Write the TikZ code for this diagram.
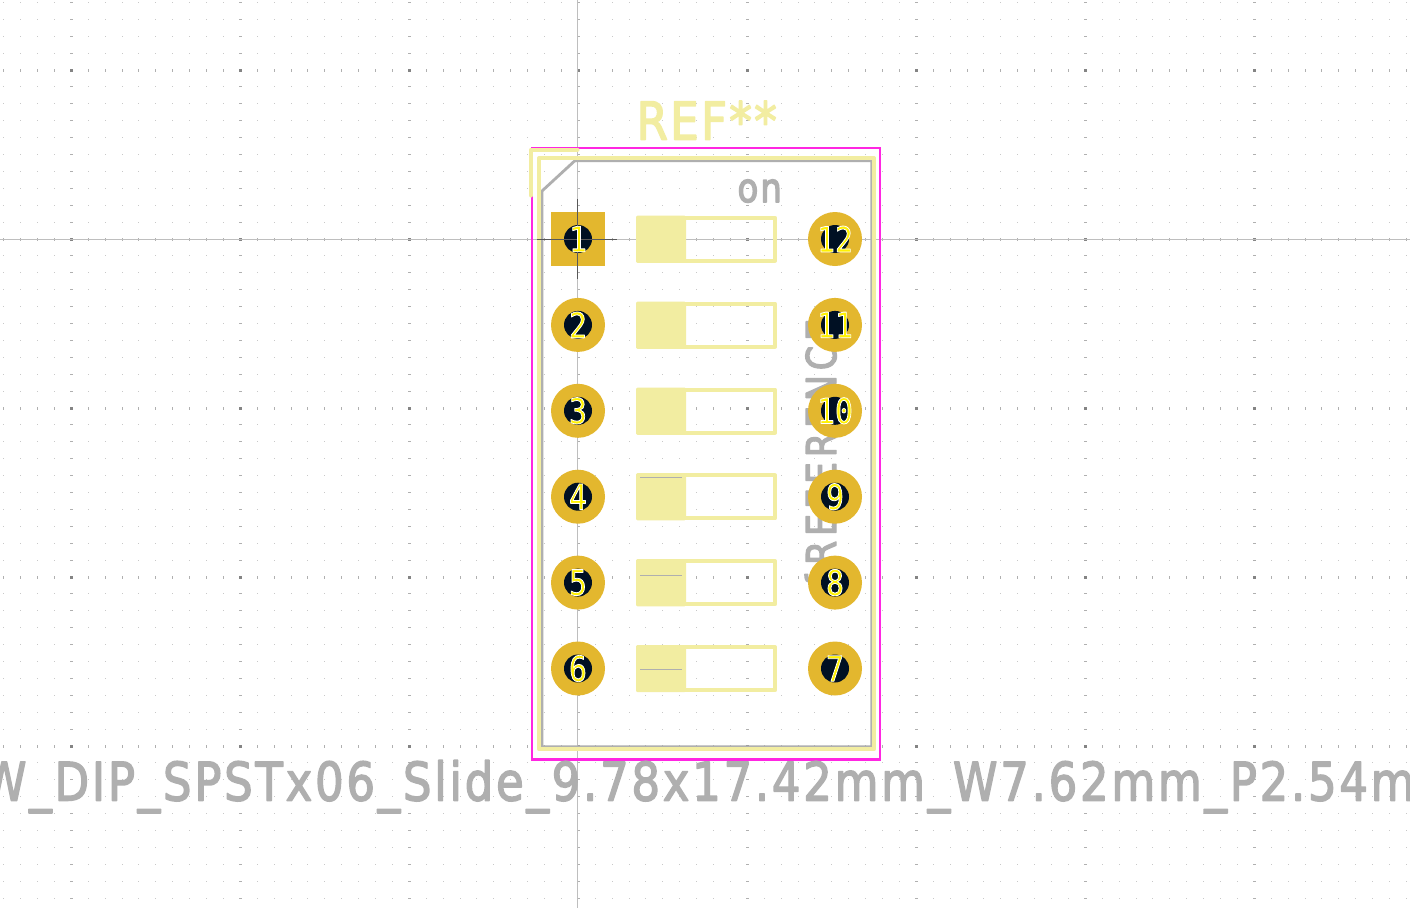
\documentclass[tikz,border=0pt]{standalone}
\usepackage{fontspec}
\newfontfamily\kf{DejaVu Sans}
\newfontfamily\numcore{DejaVu Sans Mono}
\newcommand{\strk}[3]{\special{pdf:code 2 Tr #1 RG #2 w 1 J 1 j}#3\special{pdf:code 0 Tr 0 w}}
\definecolor{padgold}{HTML}{E3B72E}
\definecolor{holeblue}{HTML}{001023}
\definecolor{silk}{HTML}{F2EDA1}
\definecolor{court}{HTML}{FF26E2}
\definecolor{fabgray}{HTML}{AFAFAF}
\definecolor{dotlight}{HTML}{C8C8C8}
\definecolor{dotmid}{HTML}{B0B0B0}
\definecolor{dotdark}{HTML}{848484}
\definecolor{axisgray}{HTML}{BEBEBE}
\definecolor{crossdark}{HTML}{585858}
\tikzset{
  x=1pt,y=-1pt,
  padround/.style={circle,fill=padgold,minimum size=54pt,inner sep=0pt,outer sep=0pt},
  padsquare/.style={rectangle,fill=padgold,minimum size=54pt,inner sep=0pt,outer sep=0pt},
  holedot/.style={circle,fill=holeblue,minimum size=28pt,inner sep=0pt,outer sep=0pt},
  silkline/.style={draw=silk,line width=4pt,line join=round,line cap=round},
  fabline/.style={draw=fabgray,line width=2.8pt},
  fabthin/.style={draw=fabgray,line width=1pt},
  kicadtext/.style={inner sep=0pt,outer sep=0pt,text=fabgray},
  numlabel/.style={inner sep=0pt,outer sep=0pt,text=yellow,font=\numcore\fontsize{35}{35}\selectfont},
}
\begin{document}
\begin{tikzpicture}
\useasboundingbox (0,0) rectangle (1410,908);
\clip (0,0) rectangle (1410,908);
\fill[white] (0,0) rectangle (1410,908);
% grid: minor dots
\foreach \i in {0,...,83}{
  \pgfmathsetmacro{\gx}{round(3.3+16.9*\i)}
  \pgfmathtruncatemacro{\mi}{mod(\i+6,10)}
  \foreach \j in {0,...,53}{
    \pgfmathsetmacro{\gy}{round(2+16.9*\j)}
    \pgfmathtruncatemacro{\mj}{mod(\j+6,10)}
    \ifnum\mi=0
      \ifnum\mj=0
        \fill[dotdark] (\gx-1,\gy-1) rectangle (\gx+2,\gy+2);
      \else
        \fill[dotmid] (\gx-1,\gy) rectangle (\gx+2,\gy+1);
      \fi
    \else
      \ifnum\mj=0
        \fill[dotmid] (\gx,\gy-1) rectangle (\gx+1,\gy+2);
      \else
        \fill[dotlight] (\gx,\gy) rectangle (\gx+1,\gy+1);
      \fi
    \fi
  }
}
% axes
\coordinate (axT) at (577.5,0); \coordinate (axB) at (577.5,908);
\coordinate (axL) at (0,239.5); \coordinate (axR) at (1410,239.5);
\draw[axisgray,line width=1.2pt] (axT) -- (axB);
\draw[axisgray,line width=1.2pt] (axL) -- (axR);
% courtyard
\draw[court,line width=2.4pt] (532,148) rectangle (880,759.5);
% fab outline
\draw[fabline,line join=miter] (575,160.6) -- (871.7,160.6) -- (871.7,746.7) -- (542,746.7) -- (542,191) -- cycle;
% fab texts
\node[kicadtext,anchor=base,font=\kf\fontsize{53}{53}\selectfont\addfontfeature{LetterSpace=6}] (value) at (706,800.5)
  {\scalebox{.85}[1]{\strk{.686 .686 .686}{1.5}{SW\_DIP\_SPSTx06\_Slide\_9.78x17.42mm\_W7.62mm\_P2.54mm}}};
\node[kicadtext,anchor=base west,font=\kf\fontsize{40}{40}\selectfont\addfontfeature{LetterSpace=6}] (on) at (737.5,202) {\scalebox{.85}[1]{\strk{.686 .686 .686}{1.5}{on}}};
\node[kicadtext,anchor=base west,rotate=90,font=\kf\fontsize{41}{41}\selectfont\addfontfeature{LetterSpace=14}] (refb) at (836,592) {\scalebox{.85}[1]{\strk{.686 .686 .686}{1.3}{\{REFERENCE}}};
% silk
\node[anchor=base west,inner sep=0pt,outer sep=0pt,text=silk,font=\kf\fontsize{52}{52}\selectfont\addfontfeature{LetterSpace=5}] (ref) at (636.5,139.5) {\scalebox{.87}[1]{\strk{.949 .929 .631}{1.6}{REF**}}};
\draw[silkline] (539.3,158) rectangle (874,749.3);
\draw[silkline] (531,195.5) -- (531,149.5) -- (577.5,149.5);
% switches
\foreach \n/\yy in {a/239,b/324.9,c/410.8,d/496.7,e/582.6,f/668.5}{
  \fill[silk,rounded corners=1.5pt] (636,\yy-23.3) rectangle (686,\yy+23.7);
  \draw[draw=silk,line width=4pt,line join=round] (638,\yy-21.3) rectangle (775,\yy+21.7);
}
\draw[fabthin] (640,477.3) -- (682,477.3);
\draw[fabthin] (640,575) -- (682,575);
\draw[fabthin] (640,669.3) -- (682,669.3);
% pads
\node[padsquare] (p1) at (578,239) {};
\foreach \nm/\xx/\yy in {p2/578/324.9,p3/578/410.8,p4/578/496.7,p5/578/582.6,p6/578/668.5,
   p7/835/668.5,p8/835/582.6,p9/835/496.7,p10/835/410.8,p11/835/324.9,p12/835/239}{
  \node[padround] (\nm) at (\xx,\yy) {};
}
\foreach \nm/\lab in {p1/1,p2/2,p3/3,p4/4,p5/5,p6/6,p7/7,p8/8,p9/9,p10/10,p11/11,p12/12}{
  \node[holedot] (h\nm) at (\nm) {};
}
% origin cross on pad 1
\coordinate (cL) at (537,239.5); \coordinate (cR) at (617,239.5);
\coordinate (cT) at (577.5,199); \coordinate (cB) at (577.5,279);
\draw[crossdark,line width=1pt] (cL) -- (cR);
\draw[crossdark,line width=1pt] (cT) -- (cB);
% numbers
\foreach \nm/\lab in {p1/1,p2/2,p3/3,p4/4,p5/5,p6/6,p7/7,p8/8,p9/9,p10/10,p11/11,p12/12}{
  \node[numlabel] (t\nm) at (\nm) {\scalebox{.85}[1]{\strk{1 1 1}{0.8}{\lab}}};
}
\end{tikzpicture}
\end{document}
